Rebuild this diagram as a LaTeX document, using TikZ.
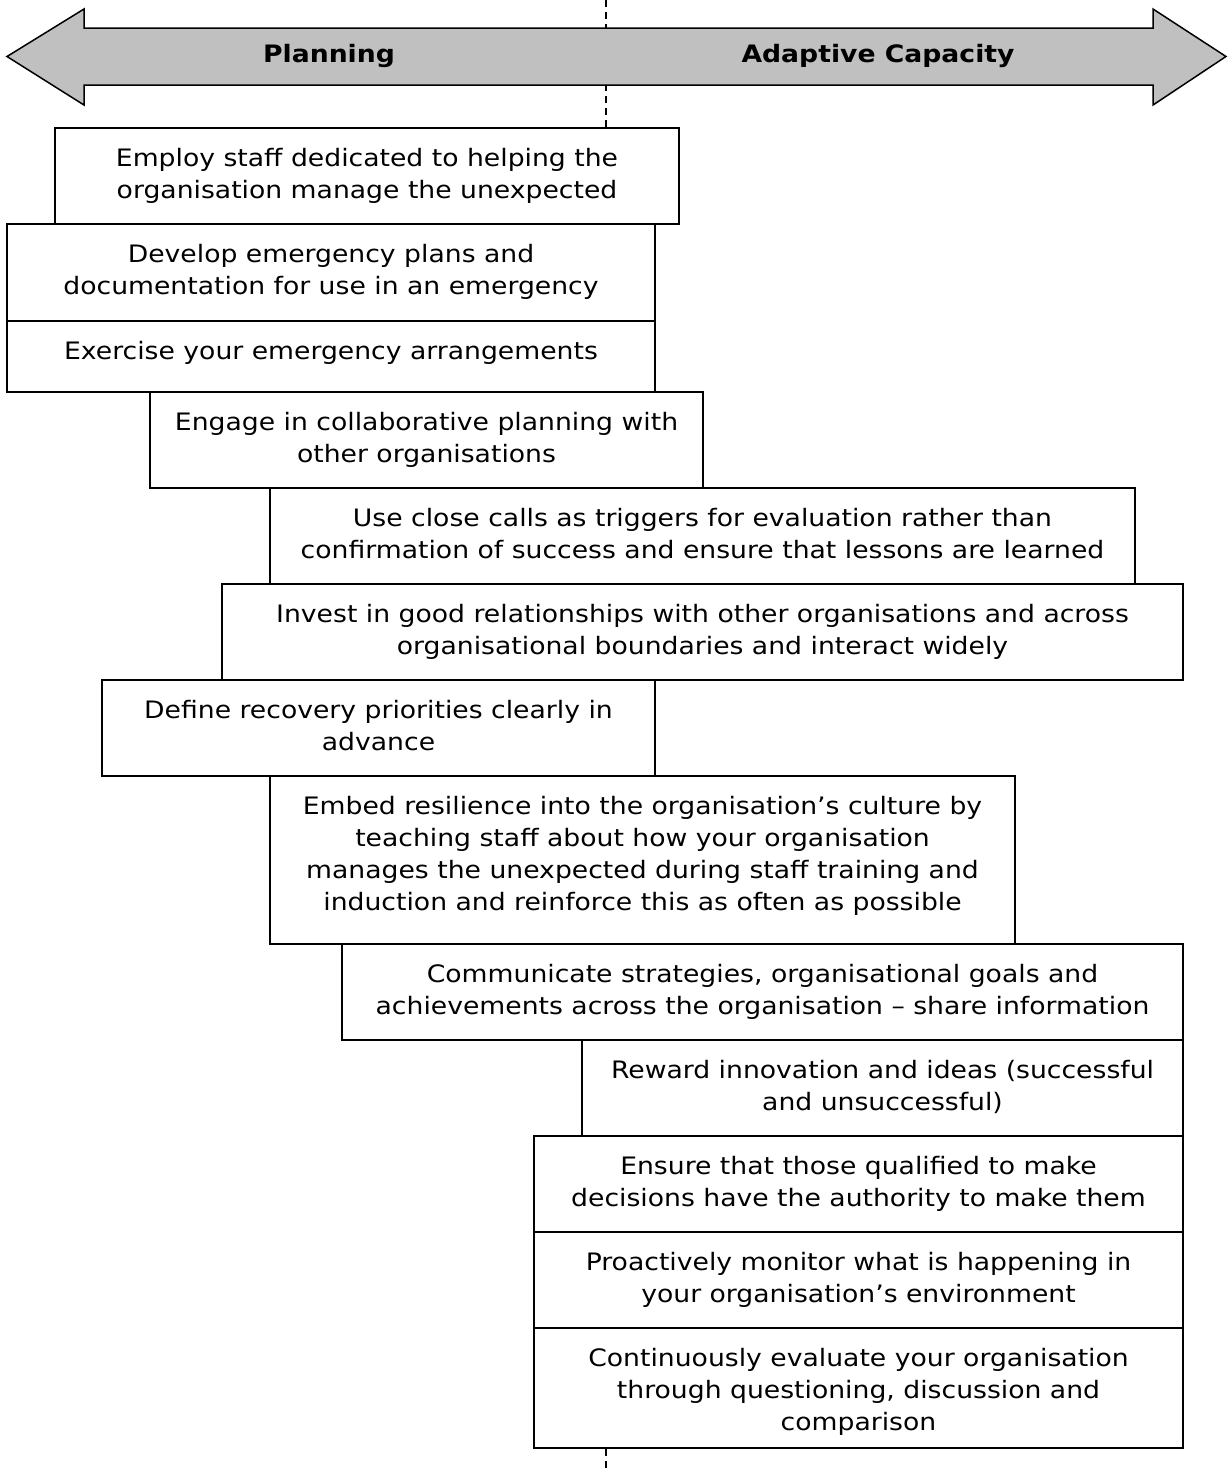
\documentclass[tikz,border=0pt]{standalone}
\usepackage{fontspec}
\setmainfont[FakeStretch=1.11]{DejaVu Sans}
\usetikzlibrary{fit}
\definecolor{arrowgray}{RGB}{192,192,192}
\tikzset{
  boxst/.style={draw=black, line width=1pt, inner sep=0pt, rectangle},
  txtst/.style={align=center, inner sep=0pt, anchor=north, font=\fontsize{12}{16}\selectfont},
  headst/.style={anchor=base, inner sep=0pt, font=\fontsize{12}{16}\selectfont\bfseries},
  divline/.style={dashed, dash pattern=on 3.5pt off 2.5pt, line width=0.75pt},
}
\newcommand\mybox[6]{%
  \node[boxst, fit={(#2,#3)(#4,#5)}] (#1) {};
  \node[txtst] (#1t) at ([yshift=-10.5pt]#1.north) {#6};
}
\begin{document}
\begin{tikzpicture}[x=0.5pt,y=-0.5pt]
\useasboundingbox (0,0) rectangle (1228,1468);
\coordinate (dtop) at (606,0);
\coordinate (dbot) at (606,1468);

\mybox{b1}{55}{128}{679}{224}{Employ staff dedicated to helping the\\organisation manage the unexpected}
\mybox{b2}{7}{224}{655}{321}{Develop emergency plans and\\documentation for use in an emergency}
\mybox{b3}{7}{321}{655}{392}{Exercise your emergency arrangements}
\mybox{b4}{150}{392}{703}{488}{Engage in collaborative planning with\\other organisations}
\mybox{b5}{270}{488}{1135}{584}{Use close calls as triggers for evaluation rather than\\confirmation of success and ensure that lessons are learned}
\mybox{b6}{222}{584}{1183}{680}{Invest in good relationships with other organisations and across\\organisational boundaries and interact widely}
\mybox{b7}{102}{680}{655}{776}{Define recovery priorities clearly in\\advance}
\mybox{b8}{270}{776}{1015}{944}{Embed resilience into the organisation’s culture by\\teaching staff about how your organisation\\manages the unexpected during staff training and\\induction and reinforce this as often as possible}
\mybox{b9}{342}{944}{1183}{1040}{Communicate strategies, organisational goals and\\achievements across the organisation – share information}
\mybox{b10}{582}{1040}{1183}{1136}{Reward innovation and ideas (successful\\and unsuccessful)}
\mybox{b11}{534}{1136}{1183}{1232}{Ensure that those qualified to make\\decisions have the authority to make them}
\mybox{b12}{534}{1232}{1183}{1328}{Proactively monitor what is happening in\\your organisation’s environment}
\mybox{b13}{534}{1328}{1183}{1448}{Continuously evaluate your organisation\\through questioning, discussion and\\comparison}

\draw[divline] (dtop) -- (dtop |- b1.north);
\draw[divline] (dbot |- b13.south) -- (dbot);

\draw[fill=arrowgray, line width=0.75pt, line join=miter]
  (7,56.5) -- (84,9) -- (84,28) -- (1153,28) -- (1153,9) -- (1226,56.5)
  -- (1153,105) -- (1153,85) -- (84,85) -- (84,105) -- cycle;
\node[headst] (plan) at (329,62) {Planning};
\node[headst] (adapt) at (878,62) {Adaptive Capacity};
\end{tikzpicture}
\end{document}
